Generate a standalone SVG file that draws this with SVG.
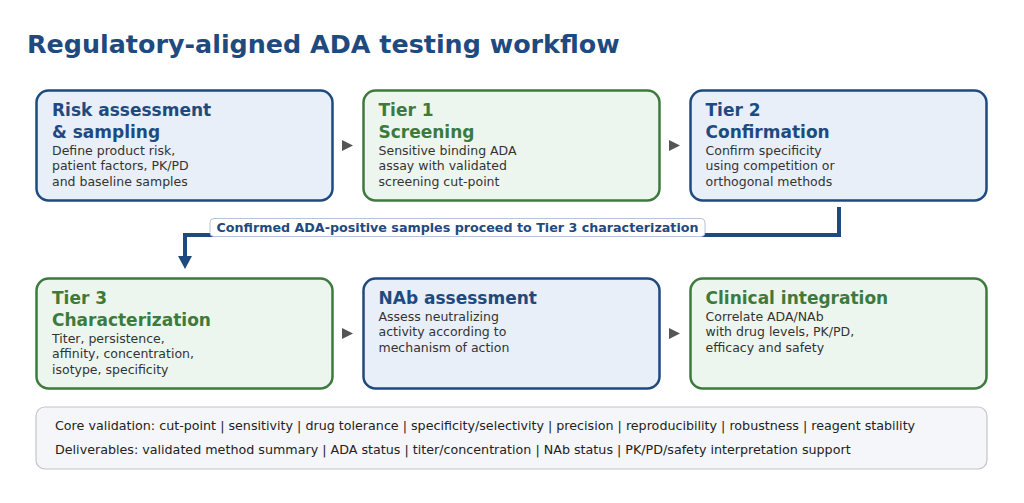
<svg xmlns="http://www.w3.org/2000/svg" width="1024" height="503" viewBox="0 0 1024 503">
<defs>
<style>
.title{font-family:"DejaVu Sans",sans-serif;font-weight:bold;font-size:25.4px;fill:#1f4a7f}
.box{stroke-width:2.5}
.blue{fill:#e8eff8;stroke:#1f4a7f}
.green{fill:#edf6ee;stroke:#3d7a3d}
.hb{font-family:"DejaVu Sans",sans-serif;font-weight:bold;font-size:17px;fill:#1f4a7f}
.hg{font-family:"DejaVu Sans",sans-serif;font-weight:bold;font-size:17px;fill:#3d7a3d}
.body{font-family:"DejaVu Sans",sans-serif;font-size:12.5px;fill:#333}
.foot{font-family:"DejaVu Sans",sans-serif;font-size:12.7px;fill:#222}
.lbl{font-family:"DejaVu Sans",sans-serif;font-weight:bold;font-size:12.7px;fill:#1f4a7f}
.tri{fill:#555}
</style>
</defs>
<rect width="1024" height="503" fill="#fff"/>
<text class="title" x="27" y="53">Regulatory-aligned ADA testing workflow</text>

<g id="connectors">
<polygon class="tri" points="342,140 353,145.5 342,151"/>
<polygon class="tri" points="669,140 680,145.5 669,151"/>
<polygon class="tri" points="342,328 353,333.5 342,339"/>
<polygon class="tri" points="669,328 680,333.5 669,339"/>
<path d="M839,207 V235 H185 V258" fill="none" stroke="#1f4a7f" stroke-width="4"/>
<polygon points="178,256 192,256 185,269" fill="#1f4a7f"/>
<g id="label">
<rect x="210" y="218.5" width="495" height="18" rx="4" fill="#fff" stroke="#b4c4da" stroke-width="1"/>
<text class="lbl" x="457.5" y="231.5" text-anchor="middle">Confirmed ADA-positive samples proceed to Tier 3 characterization</text>
</g>
</g>

<g id="risk">
<rect class="box blue" x="36.5" y="90.5" width="296" height="110" rx="12"/>
<text class="hb" x="52" y="116">Risk assessment</text>
<text class="hb" x="52" y="138">&amp; sampling</text>
<text class="body" x="52" y="154.5">Define product risk,</text>
<text class="body" x="52" y="170">patient factors, PK/PD</text>
<text class="body" x="52" y="185.5">and baseline samples</text>
</g>

<g id="tier1">
<rect class="box green" x="363.5" y="90.5" width="296" height="110" rx="12"/>
<text class="hg" x="378.5" y="116">Tier 1</text>
<text class="hg" x="378.5" y="138">Screening</text>
<text class="body" x="378.5" y="154.5">Sensitive binding ADA</text>
<text class="body" x="378.5" y="170">assay with validated</text>
<text class="body" x="378.5" y="185.5">screening cut-point</text>
</g>

<g id="tier2">
<rect class="box blue" x="690.5" y="90.5" width="296" height="110" rx="12"/>
<text class="hb" x="705.5" y="116">Tier 2</text>
<text class="hb" x="705.5" y="138">Confirmation</text>
<text class="body" x="705.5" y="154.5">Confirm specificity</text>
<text class="body" x="705.5" y="170">using competition or</text>
<text class="body" x="705.5" y="185.5">orthogonal methods</text>
</g>

<g id="tier3">
<rect class="box green" x="36.5" y="278.5" width="296" height="110" rx="12"/>
<text class="hg" x="52" y="304">Tier 3</text>
<text class="hg" x="52" y="326">Characterization</text>
<text class="body" x="52" y="342.5">Titer, persistence,</text>
<text class="body" x="52" y="358">affinity, concentration,</text>
<text class="body" x="52" y="373.5">isotype, specificity</text>
</g>

<g id="nab">
<rect class="box blue" x="363.5" y="278.5" width="296" height="110" rx="12"/>
<text class="hb" x="378.5" y="304">NAb assessment</text>
<text class="body" x="378.5" y="320.5">Assess neutralizing</text>
<text class="body" x="378.5" y="336">activity according to</text>
<text class="body" x="378.5" y="351.5">mechanism of action</text>
</g>

<g id="clinical">
<rect class="box green" x="690.5" y="278.5" width="296" height="110" rx="12"/>
<text class="hg" x="705.5" y="304">Clinical integration</text>
<text class="body" x="705.5" y="320.5">Correlate ADA/NAb</text>
<text class="body" x="705.5" y="336">with drug levels, PK/PD,</text>
<text class="body" x="705.5" y="351.5">efficacy and safety</text>
</g>

<g id="summary">
<rect x="36" y="407" width="951" height="62" rx="9" fill="#f5f6fa" stroke="#c4c4c8" stroke-width="1.2"/>
<text class="foot" x="55" y="429.5">Core validation: cut-point | sensitivity | drug tolerance | specificity/selectivity | precision | reproducibility | robustness | reagent stability</text>
<text class="foot" x="55" y="454">Deliverables: validated method summary | ADA status | titer/concentration | NAb status | PK/PD/safety interpretation support</text>
</g>
</svg>
